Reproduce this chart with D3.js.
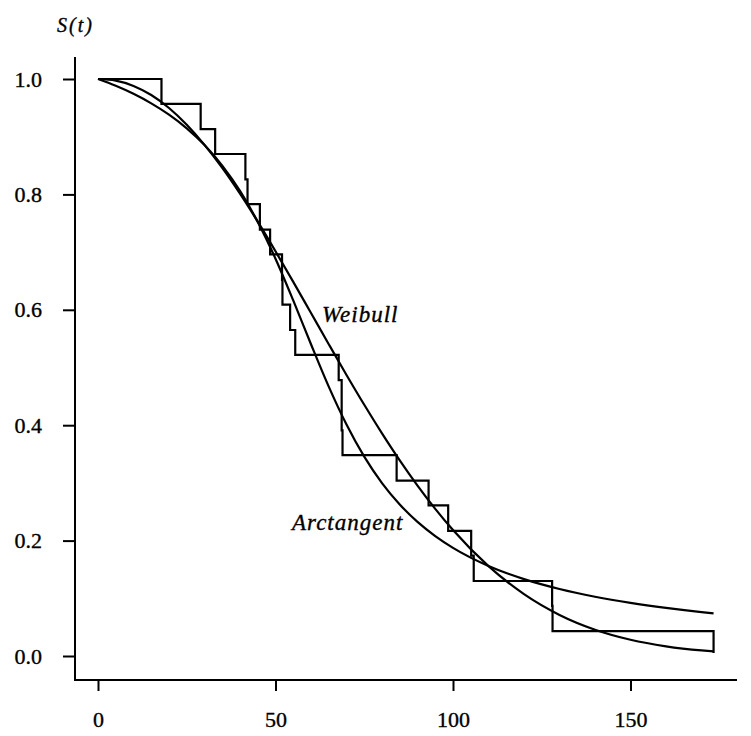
<!DOCTYPE html>
<html>
<head>
<meta charset="utf-8">
<script src="https://cdn.jsdelivr.net/npm/d3@7"></script>
<style>
  html, body { margin: 0; padding: 0; background: #fff; }
  svg { display: block; }
  text { font-family: "Liberation Serif", "Times New Roman", serif; fill: #000; }
</style>
</head>
<body>
<svg id="chart" width="751" height="736"></svg>
<script>
// ---- Data (ball-bearing failure times, Kaplan–Meier estimate and two fitted curves) ----
const kmTimes = [0, 17.88, 28.92, 33.00, 41.52, 42.12, 45.60, 48.48, 51.84, 51.96, 54.12, 55.56,
                 67.80, 68.64, 68.88, 84.12, 93.12, 98.64, 105.12, 105.84, 127.92, 128.04, 173.40];
const kmSurv  = [1.000, 0.957, 0.913, 0.870, 0.826, 0.783, 0.739, 0.696, 0.652, 0.609, 0.565, 0.522,
                 0.478, 0.391, 0.348, 0.304, 0.261, 0.217, 0.174, 0.130, 0.087, 0.043, 0.005];

const curveTimes = [0, 5, 10, 15, 20, 25, 30, 35, 40, 45, 50, 55, 60, 65, 70, 75, 80, 85, 90, 95,
                    100, 110, 120, 130, 140, 150, 160, 170, 173.4];
const weibullSurv = [1.0000, 0.9972, 0.9880, 0.9722, 0.9497, 0.9207, 0.8859, 0.8458, 0.8011, 0.7527,
                     0.7014, 0.6484, 0.5944, 0.5404, 0.4871, 0.4354, 0.3859, 0.3390, 0.2953, 0.2550,
                     0.2182, 0.1557, 0.1072, 0.0712, 0.0456, 0.0282, 0.0168, 0.0096, 0.0079];
const arctanSurv  = [1.0000, 0.9882, 0.9743, 0.9578, 0.9382, 0.9145, 0.8856, 0.8499, 0.8060, 0.7524,
                     0.6886, 0.6163, 0.5403, 0.4669, 0.4012, 0.3455, 0.2997, 0.2626, 0.2324, 0.2078,
                     0.1874, 0.1560, 0.1332, 0.1161, 0.1027, 0.0920, 0.0833, 0.0761, 0.0740];

const xTicks = [0, 50, 100, 150];
const yTicks = [0.0, 0.2, 0.4, 0.6, 0.8, 1.0];
const yTickLabels = ["0.0", "0.2", "0.4", "0.6", "0.8", "1.0"];
const yTitle = "S(t)";
const seriesLabels = ["Weibull", "Arctangent"];

// ---- Layout ----
const svg = d3.select("#chart");
const x = d3.scaleLinear().domain([0, 150]).range([98, 630.5]);
const y = d3.scaleLinear().domain([0, 1]).range([656, 79]);
const axisX = 75;        // y-axis line position
const axisY = 680;       // x-axis line position
const axisTop = 57;
const axisRight = 737;
const ink = 0.35;        // slight text stroke to mimic the heavier printed type

// axes frame
svg.append("line").attr("x1", axisX).attr("x2", axisX).attr("y1", axisTop).attr("y2", axisY + 1)
  .attr("stroke", "#000").attr("stroke-width", 2);
svg.append("line").attr("x1", axisX - 1).attr("x2", axisRight).attr("y1", axisY).attr("y2", axisY)
  .attr("stroke", "#000").attr("stroke-width", 2.2);

// y axis ticks
const yAxis = d3.axisLeft(y).tickValues(yTicks).tickSize(12).tickSizeOuter(0)
  .tickFormat((d, i) => yTickLabels[i]).tickPadding(21);
const gy = svg.append("g").attr("transform", `translate(${axisX},0)`).call(yAxis);
gy.select(".domain").remove();
gy.selectAll(".tick line").attr("stroke", "#000").attr("stroke-width", 2);
gy.selectAll(".tick text").attr("font-size", 22).attr("font-family", "Liberation Serif")
  .attr("fill", "#000").attr("stroke", "#000").attr("stroke-width", ink);

// x axis ticks
const xAxis = d3.axisBottom(x).tickValues(xTicks).tickSize(11).tickSizeOuter(0)
  .tickFormat(d3.format("d")).tickPadding(20);
const gx = svg.append("g").attr("transform", `translate(0,${axisY})`).call(xAxis);
gx.select(".domain").remove();
gx.selectAll(".tick line").attr("stroke", "#000").attr("stroke-width", 2);
gx.selectAll(".tick text").attr("font-size", 22).attr("font-family", "Liberation Serif")
  .attr("fill", "#000").attr("stroke", "#000").attr("stroke-width", ink);

// y title
svg.append("text").attr("x", 57).attr("y", 32).attr("font-size", 20)
  .attr("font-style", "italic").attr("letter-spacing", 2)
  .attr("stroke", "#000").attr("stroke-width", ink).text(yTitle);

// Kaplan–Meier step function
const stepPts = [];
for (let i = 0; i < kmTimes.length; i++) {
  if (i === 0) { stepPts.push([kmTimes[0], kmSurv[0]]); continue; }
  stepPts.push([kmTimes[i], kmSurv[i - 1]]);
  stepPts.push([kmTimes[i], kmSurv[i]]);
}
const lineLin = d3.line().x(d => x(d[0])).y(d => y(d[1]));
svg.append("path").attr("d", lineLin(stepPts))
  .attr("fill", "none").attr("stroke", "#000").attr("stroke-width", 2.2).attr("stroke-linejoin", "miter");

// fitted curves
const lineSmooth = d3.line().x(d => x(d[0])).y(d => y(d[1])).curve(d3.curveMonotoneX);
svg.append("path").attr("d", lineSmooth(curveTimes.map((t, i) => [t, weibullSurv[i]])))
  .attr("fill", "none").attr("stroke", "#000").attr("stroke-width", 2.2);
svg.append("path").attr("d", lineSmooth(curveTimes.map((t, i) => [t, arctanSurv[i]])))
  .attr("fill", "none").attr("stroke", "#000").attr("stroke-width", 2.2);

// curve labels
svg.append("text").attr("x", 322).attr("y", 322).attr("font-size", 23)
  .attr("font-style", "italic").attr("letter-spacing", 1)
  .attr("stroke", "#000").attr("stroke-width", ink).text(seriesLabels[0]);
svg.append("text").attr("x", 292).attr("y", 530).attr("font-size", 23)
  .attr("font-style", "italic").attr("letter-spacing", 1)
  .attr("stroke", "#000").attr("stroke-width", ink).text(seriesLabels[1]);
</script>
</body>
</html>
